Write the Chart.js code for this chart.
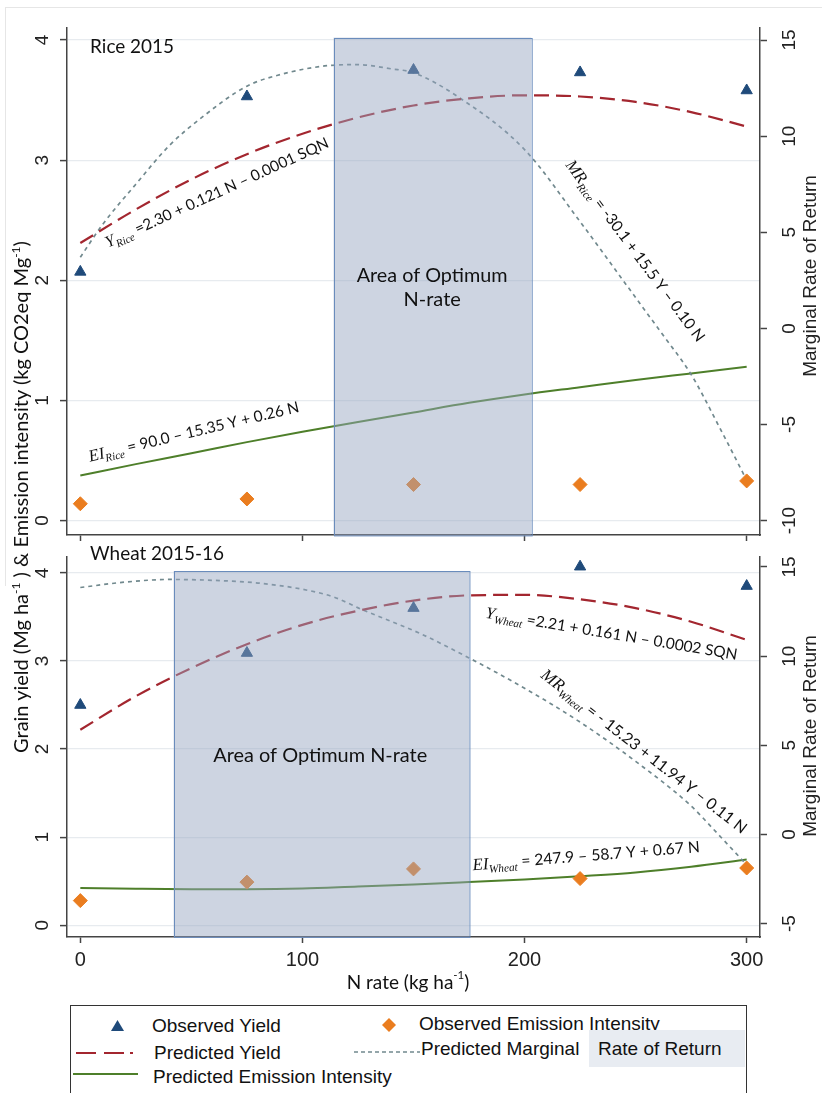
<!DOCTYPE html>
<html>
<head>
<meta charset="utf-8">
<script src="https://cdn.jsdelivr.net/npm/chart.js@4.4.1/dist/chart.umd.min.js"></script>
<style>
  body { margin: 0; width: 822px; height: 1093px; overflow: hidden; background: #fff; position: relative; font-family: "Liberation Sans", Arial, sans-serif; }
  canvas { position: absolute; left: 0; }
  #c1 { top: 0; }
  #c2 { top: 542px; }
  #frame { position: absolute; left: 5px; top: 7px; width: 830px; height: 578px; border-left: 1px solid #e6e6e6; border-top: 1px solid #e6e6e6; }
  #ytitle { position: absolute; left: -279px; top: 484px; width: 600px; height: 26px; line-height: 26px; text-align: center; transform: rotate(-90deg); font: 20px Lato, sans-serif; color: #111; white-space: nowrap; }
  #ytitle sup { font-size: 12px; }
  #legend { position: absolute; left: 70px; top: 1005px; width: 677px; height: 110px; border: 1.5px solid #333; box-sizing: border-box; }
  #legend .t { position: absolute; font-size: 19px; color: #111; line-height: 22px; white-space: nowrap; }
  #legend svg { position: absolute; left: 0; top: 0; }
  #rrbg { position: absolute; left: 518px; top: 24px; width: 156px; height: 37px; background: #e8ecf2; }
</style>
</head>
<body>
<div id="frame"></div>
<canvas id="c1" width="822" height="542"></canvas>
<canvas id="c2" width="822" height="458"></canvas>
<div id="ytitle">Grain yield (Mg ha<sup>-1</sup> ) &amp; Emission intensity (kg CO2eq Mg<sup>-1</sup>)</div>
<div id="legend">
  <svg width="677" height="110">
    <polygon points="46.5,14 53,25 40,25" fill="#1f4a7a"/>
    <polygon points="318,12 325,19 318,26 311,19" fill="#ea7d1f"/>
    <line x1="5" y1="47" x2="72" y2="47" stroke="#a3262f" stroke-width="2" stroke-dasharray="20 8 20 6 3 40"/>
    <line x1="283" y1="46" x2="349" y2="46" stroke="#71898e" stroke-width="1.6" stroke-dasharray="4 3"/>
    <line x1="2" y1="68" x2="67" y2="68" stroke="#4e7f2a" stroke-width="2"/>
  </svg>
  <div class="t" style="left:81px;top:9px">Observed Yield</div>
  <div class="t" style="left:348px;top:7px">Observed Emission Intensity</div>
  <div class="t" style="left:83px;top:36px">Predicted Yield</div>
  <div class="t" style="left:350px;top:32px">Predicted Marginal</div>
  <div id="rrbg"></div>
  <div class="t" style="left:527px;top:32px">Rate of Return</div>
  <div class="t" style="left:82px;top:60px">Predicted Emission Intensity</div>
</div>

<script>
// N rates where yield and emission intensity were measured
const N_OBS = [0, 75, 150, 225, 300];
// N rates used to draw the predicted curves
const N_CURVE = [0, 25, 50, 75, 100, 125, 150, 175, 200, 225, 250, 275, 300];

const X_TICKS = [0, 100, 200, 300];
const LEFT_TICKS = [0, 1, 2, 3, 4];
const RICE_RIGHT_TICKS = [-10, -5, 0, 5, 10, 15];
const WHEAT_RIGHT_TICKS = [-5, 0, 5, 10, 15];

// Rice 2015
const RICE_YIELD_OBS = [2.07, 3.53, 3.75, 3.73, 3.58];
const RICE_EI_OBS = [0.14, 0.18, 0.30, 0.30, 0.33];
const RICE_YIELD_PRED = [2.31, 2.59, 2.84, 3.05, 3.22, 3.355, 3.455, 3.515, 3.54, 3.53, 3.485, 3.40, 3.28];
const RICE_EI_PRED = [0.375, 0.47, 0.56, 0.653, 0.74, 0.82, 0.90, 0.98, 1.05, 1.11, 1.17, 1.225, 1.28];
const RICE_MR_N = [0, 10, 25, 40, 55, 75, 90, 110, 125, 140, 150, 170, 200, 225, 250, 262, 275, 288, 300];
const RICE_MR_PRED = [3.7, 5.4, 7.5, 9.5, 11.0, 12.6, 13.2, 13.65, 13.72, 13.5, 13.3, 12.05, 9.3, 5.55, 1.6, -0.3, -2.4, -5.2, -7.9];
const RICE_OPTIMUM = [114, 203];

// Wheat 2015-16
const WHEAT_YIELD_OBS = [2.50, 3.09, 3.60, 4.07, 3.85];
const WHEAT_EI_OBS = [0.28, 0.49, 0.64, 0.53, 0.65];
const WHEAT_YIELD_PRED = [2.22, 2.60, 2.92, 3.19, 3.41, 3.57, 3.685, 3.745, 3.75, 3.70, 3.60, 3.445, 3.24];
const WHEAT_EI_PRED = [0.424, 0.415, 0.41, 0.41, 0.417, 0.44, 0.462, 0.49, 0.52, 0.557, 0.60, 0.665, 0.746];
const WHEAT_MR_N = [0, 20, 40, 60, 80, 100, 114, 127, 140, 153, 175, 200, 225, 250, 275, 285, 300];
const WHEAT_MR_PRED = [13.85, 14.15, 14.3, 14.25, 14.1, 13.75, 13.32, 12.6, 11.95, 11.27, 9.9, 8.2, 6.3, 4.1, 1.6, 0.3, -1.7];
const WHEAT_OPTIMUM = [42, 175];

const NAVY = '#1f4a7a', ORANGE = '#ea7d1f', RED = '#a3262f', GREY = '#71898e', GREEN = '#4e7f2a', AXIS = '#444';

const pts = (xs, ys) => xs.map((x, i) => ({ x: x, y: ys[i] }));

// rich text: italic serif symbols, subscripts, plain numbers
function drawRich(ctx, px, py, t) {
    const fonts = {
        tx: s => s + 'px Lato',
        it: s => 'italic ' + (s * 1.08) + 'px "Liberation Serif"',
        sub: s => 'italic ' + (s * 0.72) + 'px "Liberation Serif"',
        sup: s => (s * 0.6) + 'px Lato'
    };
    const shift = { sub: 0.25, sup: -0.4 };
    const measure = s => t.parts.reduce((w, p) => { ctx.font = fonts[p[1]](s); return w + ctx.measureText(p[0]).width; }, 0);
    let size = t.size || 16;
    if (t.width) size = size * t.width / measure(size);
    const total = measure(size);
    ctx.save();
    ctx.translate(px, py);
    ctx.rotate((t.angle || 0) * Math.PI / 180);
    ctx.fillStyle = '#111';
    ctx.textAlign = 'left';
    ctx.textBaseline = t.base || 'alphabetic';
    let cx = t.align === 'center' ? -total / 2 : 0;
    t.parts.forEach(p => {
        ctx.font = fonts[p[1]](size);
        ctx.fillText(p[0], cx, (shift[p[1]] || 0) * size);
        cx += ctx.measureText(p[0]).width;
    });
    ctx.restore();
}

const decor = {
    id: 'decor',
    afterDatasetsDraw(chart, args, o) {
        const ctx = chart.ctx, x = chart.scales.x, y = chart.scales.y, area = chart.chartArea;
        const x0 = x.getPixelForValue(o.box[0]), x1 = x.getPixelForValue(o.box[1]);
        const top = y.getPixelForValue(o.boxTop);
        ctx.save();
        ctx.fillStyle = 'rgba(150,166,192,0.48)';
        ctx.fillRect(x0, top, x1 - x0, area.bottom - top);
        ctx.strokeStyle = '#6a8cbc';
        ctx.lineWidth = 1;
        ctx.strokeRect(Math.round(x0) + 0.5, Math.round(top) + 0.5, x1 - x0, area.bottom - top);
        ctx.restore();
        o.texts.forEach(t => drawRich(ctx, x.getPixelForValue(t.at[0]), y.getPixelForValue(t.at[1]), t));
    },
    afterDraw(chart, args, o) {
        const ctx = chart.ctx, x = chart.scales.x, y = chart.scales.y, y1 = chart.scales.y1;
        ctx.save();
        ctx.fillStyle = '#222';
        ctx.font = '19px "Liberation Sans"';
        ctx.textAlign = 'center';
        ctx.textBaseline = 'middle';
        const vert = (txt, px, py) => {
            ctx.save(); ctx.translate(px, py); ctx.rotate(-Math.PI / 2); ctx.fillText(txt, 0, 0); ctx.restore();
        };
        y.ticks.forEach(tk => vert(String(tk.value), 43, y.getPixelForValue(tk.value)));
        y1.ticks.forEach(tk => vert(String(tk.value), 790, y1.getPixelForValue(tk.value)));
        vert('Marginal Rate of Return', 811, o.rightTitleY);
        if (o.xLabels) {
            ctx.font = '20px "Liberation Sans"';
            x.ticks.forEach(tk => ctx.fillText(String(tk.value), x.getPixelForValue(tk.value), o.xLabelY));
            drawRich(ctx, 408, o.xTitleY, { parts: [['N rate (kg ha', 'tx'], ['-1', 'sup'], [')', 'tx']], size: 19, align: 'center', base: 'middle' });
        }
        ctx.restore();
    }
};

function makeChart(id, c) {
    const fixTicks = list => s => { s.ticks = list.map(v => ({ value: v })); };
    return new Chart(document.getElementById(id), {
        type: 'line',
        data: {
            datasets: [
                { label: 'Observed Yield', data: pts(N_OBS, c.yieldObs), showLine: false, pointStyle: 'triangle', pointRadius: 6.5, backgroundColor: NAVY, borderColor: NAVY, borderWidth: 1, yAxisID: 'y', order: 0 },
                { label: 'Observed Emission Intensity', data: pts(N_OBS, c.eiObs), showLine: false, pointStyle: 'rectRot', pointRadius: 7, backgroundColor: ORANGE, borderColor: ORANGE, borderWidth: 1, yAxisID: 'y', order: 0 },
                { label: 'Predicted Yield', data: pts(N_CURVE, c.yieldPred), borderColor: RED, borderWidth: 2.2, borderDash: [15, 7], pointRadius: 0, cubicInterpolationMode: 'monotone', yAxisID: 'y', order: 1 },
                { label: 'Predicted Marginal Rate of Return', data: pts(c.mrN, c.mrPred), borderColor: GREY, borderWidth: 1.7, borderDash: [4, 4], pointRadius: 0, cubicInterpolationMode: 'monotone', yAxisID: 'y1', order: 1 },
                { label: 'Predicted Emission Intensity', data: pts(N_CURVE, c.eiPred), borderColor: GREEN, borderWidth: 2, pointRadius: 0, cubicInterpolationMode: 'monotone', yAxisID: 'y', order: 1 }
            ]
        },
        plugins: [decor],
        options: {
            responsive: false,
            animation: false,
            events: [],
            layout: { autoPadding: false, padding: { top: c.padTop, left: 0, right: 0, bottom: 0 } },
            plugins: {
                legend: { display: false },
                tooltip: { enabled: false },
                decor: c.decor
            },
            scales: {
                x: {
                    type: 'linear', min: -6, max: 306,
                    afterBuildTicks: fixTicks(X_TICKS),
                    afterFit: s => { s.height = c.xHeight; },
                    ticks: { display: false },
                    grid: { drawOnChartArea: false, tickLength: 6, tickColor: AXIS, tickWidth: 1.5 },
                    border: { color: AXIS, width: 1.5 }
                },
                y: {
                    position: 'left', min: c.leftRange[0], max: c.leftRange[1],
                    afterBuildTicks: fixTicks(LEFT_TICKS),
                    afterFit: s => { s.width = 67; },
                    ticks: { display: false },
                    grid: { color: '#e7ebef', lineWidth: 1.2, tickLength: 7, tickColor: AXIS, tickWidth: 1.5 },
                    border: { color: AXIS, width: 1.5 }
                },
                y1: {
                    position: 'right', min: c.rightRange[0], max: c.rightRange[1],
                    afterBuildTicks: fixTicks(c.rightTicks),
                    afterFit: s => { s.width = 62; },
                    ticks: { display: false },
                    grid: { drawOnChartArea: false, tickLength: 7, tickColor: AXIS, tickWidth: 1.5 },
                    border: { color: AXIS, width: 1.5 }
                }
            }
        }
    });
}

makeChart('c1', {
    yieldObs: RICE_YIELD_OBS, eiObs: RICE_EI_OBS, yieldPred: RICE_YIELD_PRED, eiPred: RICE_EI_PRED,
    mrN: RICE_MR_N, mrPred: RICE_MR_PRED, rightTicks: RICE_RIGHT_TICKS,
    leftRange: [-0.12, 4.1], rightRange: [-10.75, 15.625], padTop: 28, xHeight: 7,
    decor: {
        box: RICE_OPTIMUM, boxTop: 4.02, rightTitleY: 276, xLabels: false,
        texts: [
            { at: [4.4, 3.94], parts: [['Rice 2015', 'tx']], width: 84, size: 19, base: 'middle' },
            { at: [158.4, 2.04], parts: [['Area of Optimum', 'tx']], width: 151, size: 20, base: 'middle', align: 'center' },
            { at: [158.4, 1.84], parts: [['N-rate', 'tx']], size: 20, base: 'middle', align: 'center' },
            { at: [12.5, 2.27], angle: -24.5, width: 244, parts: [['Y', 'it'], ['Rice', 'sub'], [' =2.30 + 0.121 N \u2013 0.0001 SQN', 'tx']] },
            { at: [218.2, 2.96], angle: 53.4, width: 222, parts: [['MR', 'it'], ['Rice', 'sub'], [' = -30.1 + 15.5 Y \u2013 0.10 N', 'tx']] },
            { at: [4.4, 0.49], angle: -13.4, width: 216, parts: [['EI', 'it'], ['Rice', 'sub'], [' = 90.0 \u2013 15.35 Y + 0.26 N', 'tx']] }
        ]
    }
});

makeChart('c2', {
    yieldObs: WHEAT_YIELD_OBS, eiObs: WHEAT_EI_OBS, yieldPred: WHEAT_YIELD_PRED, eiPred: WHEAT_EI_PRED,
    mrN: WHEAT_MR_N, mrPred: WHEAT_MR_PRED, rightTicks: WHEAT_RIGHT_TICKS,
    leftRange: [-0.133, 4.18], rightRange: [-5.75, 15.56], padTop: 15, xHeight: 63,
    decor: {
        box: WHEAT_OPTIMUM, boxTop: 4.02, rightTitleY: 194, xLabels: true, xLabelY: 418, xTitleY: 441,
        texts: [
            { at: [4.4, 4.22], parts: [['Wheat 2015-16', 'tx']], width: 134, size: 19, base: 'middle' },
            { at: [108, 1.93], parts: [['Area of Optimum N-rate', 'tx']], width: 214, size: 20, base: 'middle', align: 'center' },
            { at: [182.2, 3.49], angle: 9.5, width: 255, parts: [['Y', 'it'], ['Wheat', 'sub'], [' =2.21 + 0.161 N \u2013 0.0002 SQN', 'tx']] },
            { at: [207, 2.82], angle: 38, width: 256, parts: [['MR', 'it'], ['Wheat', 'sub'], [' = - 15.23 + 11.94 Y \u2013 0.11 N', 'tx']] },
            { at: [176.8, 0.625], angle: -4.6, width: 228, parts: [['EI', 'it'], ['Wheat', 'sub'], [' = 247.9 \u2013 58.7 Y + 0.67 N', 'tx']] }
        ]
    }
});
</script>
</body>
</html>
